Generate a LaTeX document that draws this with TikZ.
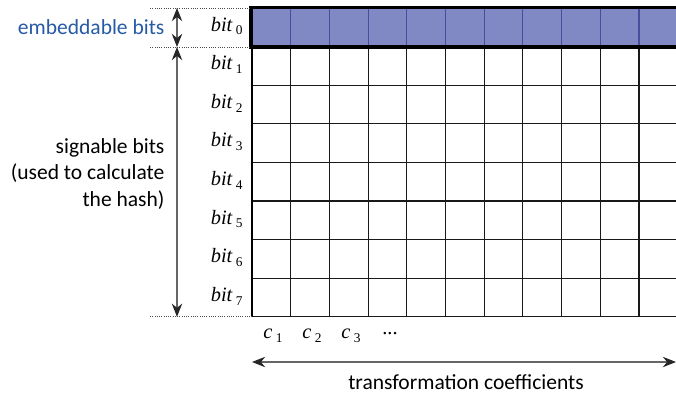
\documentclass[tikz,border=0pt]{standalone}
\usepackage{fontspec}
\setmainfont{Carlito}
\newfontfamily\timesfont{Liberation Serif}
\usetikzlibrary{arrows.meta, positioning}

\definecolor{embedblue}{RGB}{128,137,196}
\definecolor{labelblue}{RGB}{38,90,166}
\newcommand{\bitlbl}[1]{{\timesfont\itshape bit}\,{\timesfont\fontsize{9.5}{9.5}\selectfont\raisebox{-0.6ex}{#1}}}
\newcommand{\coefflbl}[1]{{\timesfont\itshape c}\,{\timesfont\fontsize{9.5}{9.5}\selectfont\raisebox{-0.6ex}{#1}}}

\begin{document}
\begin{tikzpicture}[
  x=0.025cm, y=-0.025cm,
  lbl/.style={font=\fontsize{15.3}{19}\selectfont, inner sep=0pt},
  bitname/.style={anchor=east, inner sep=0pt, font=\fontsize{14.5}{16}\selectfont},
  cname/.style={inner sep=0pt, font=\fontsize{14.5}{16}\selectfont},
  guide/.style={densely dotted, line width=0.6pt, black!70},
  span/.style={{Stealth[length=3.3mm,width=2.6mm,color=black!85]}-{Stealth[length=3.3mm,width=2.6mm,color=black!85]}, line width=0.8pt, black!60},
  >={Stealth[length=3mm]}, line width=0.8pt
]
  \useasboundingbox (0,0) rectangle (676,396);

  % grid of bits x coefficients
  \begin{scope}
    \clip (240,0) rectangle (676,330);
    \fill[embedblue] (252,8) rectangle (700,47);
    \foreach \j in {1,...,8}
      \draw[black!90] (252,8+38.6*\j) -- (700,8+38.6*\j);
    \foreach \k in {1,...,11}
      \draw[black!90] (252+38.7*\k,47) -- (252+38.7*\k,316.8);
    \foreach \k in {1,...,11}
      \draw[black!55!blue!70] (252+38.7*\k,8) -- (252+38.7*\k,47);
    \draw (252,47) -- (252,316.8);
    \draw[line width=2.8pt] (700,7.5) -- (251,7.5) -- (251,47) -- (700,47);
  \end{scope}

  % row labels
  \foreach \j in {0,...,7}
    \node[bitname] (b\j) at (243,26+38.6*\j) {\bitlbl{\j}};

  % column labels
  \node[cname] (c1) at (273,336) {\coefflbl{1}};
  \node[cname] (c2) at (312,336) {\coefflbl{2}};
  \node[cname] (c3) at (351,336) {\coefflbl{3}};
  \node[cname] (cdots) at (390,334) {\timesfont ...};

  % guide lines
  \coordinate (gtop) at (177,8);
  \coordinate (gmid) at (177,47);
  \coordinate (gbot) at (177,316.8);
  \draw[guide] (150,8) -- (250,8);
  \draw[guide] (150,47) -- (250,47);
  \draw[guide] (150,316.8) -- (252,316.8);

  \draw[span] (gtop) -- (gmid);
  \draw[span] (gmid) -- (gbot);

  \coordinate (cleft) at (252,362);
  \coordinate (cright) at (676,362);
  \draw[span] (cleft) -- (cright);

  % side texts
  \node[lbl, anchor=east, text=labelblue] (embed) at (165,27) {embeddable bits};
  \node[lbl, anchor=east, align=right] (sign) at (165,174) {signable bits\\(used to calculate\\the hash)};
  \node[lbl] (coeff) at (466,382) {transformation coefficients};
\end{tikzpicture}
\end{document}
